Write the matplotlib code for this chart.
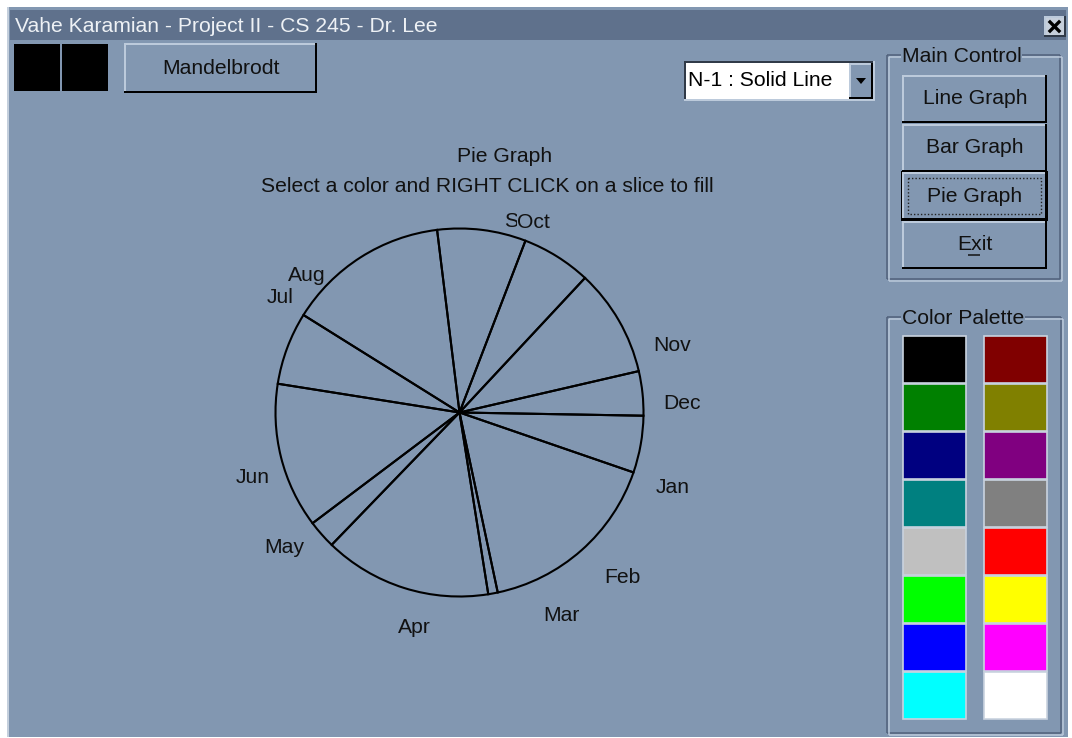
import numpy as np
import matplotlib
matplotlib.use("Agg")
import matplotlib.pyplot as plt
from matplotlib.patches import Rectangle, Polygon

W, H = 1072, 738
BG = "#8297b1"
TITLE_BG = "#5f718c"
LIGHT = "#bccadb"
DARK = "#50607a"
FONT = "Liberation Sans"
FS = 15.2

# pie data: degrees per slice, clockwise from the start angle
MONTHS = ["Jan", "Feb", "Mar", "Apr", "May", "Jun",
          "Jul", "Aug", "Sep", "Oct", "Nov", "Dec"]
SLICE_DEG = [18, 59, 3, 53, 9, 46, 23, 51, 28, 22, 34, 14]
START_ANGLE = -1

# where the app put the month labels (angle deg, distance from centre in px)
LABEL_ANGLE = [-19.5, -45.5, -63.2, -101.9, 217.5, 197.3,
               147.2, 138.0, 71.6, 68.8, 17.6, 2.4]
LABEL_RADIUS = [226, 232, 227, 220, 221, 217, 213, 205, 201, 204, 223, 223]

BUTTONS = ["Line Graph", "Bar Graph", "Pie Graph", "Exit"]
ACTIVE = "Pie Graph"

PALETTE_LEFT = ["#000000", "#008000", "#000080", "#008080",
                "#c0c0c0", "#00ff00", "#0000ff", "#00ffff"]
PALETTE_RIGHT = ["#800000", "#808000", "#800080", "#808080",
                 "#ff0000", "#ffff00", "#ff00ff", "#ffffff"]

TITLE = "Vahe Karamian - Project II - CS 245 - Dr. Lee"
DROPDOWN = "N-1 : Solid Line"

PX = 0.72  # 1 px in points at dpi 100


def hline(ax, x0, x1, y, c, lw=1):
    ax.plot([x0, x1], [y, y], color=c, lw=lw * PX, solid_capstyle="butt")


def vline(ax, x, y0, y1, c, lw=1):
    ax.plot([x, x], [y0, y1], color=c, lw=lw * PX, solid_capstyle="butt")


def bevel(ax, x0, y0, x1, y1, raised=True, face=BG, dark="black"):
    ax.add_patch(Rectangle((x0, y0), x1 - x0, y1 - y0, facecolor=face,
                           edgecolor="none"))
    lt, dk = (LIGHT, dark) if raised else (dark, LIGHT)
    hline(ax, x0, x1, y0 + 1, lt, 2)
    vline(ax, x0 + 1, y0, y1, lt, 2)
    hline(ax, x0, x1, y1 - 1, dk, 2)
    vline(ax, x1 - 1, y0, y1, dk, 2)


def groupbox(ax, x0, y0, x1, y1, label):
    for off, c in [(0, DARK), (1.5, LIGHT)]:
        hline(ax, x0 + off, x1 + off, y0 + off, c, 1.5)
        hline(ax, x0 + off, x1 + off, y1 + off, c, 1.5)
        vline(ax, x0 + off, y0 + off, y1 + off, c, 1.5)
        vline(ax, x1 + off, y0 + off, y1 + off, c, 1.5)
    ax.text(x0 + 15, y0 + 1, label, fontsize=FS, family=FONT, ha="left",
            va="center", color="#111111",
            bbox=dict(facecolor=BG, edgecolor="none", pad=0.5))


def main():
    fig = plt.figure(figsize=(W / 100, H / 100), dpi=100, facecolor="white")
    ui = fig.add_axes([0, 0, 1, 1])
    ui.set_xlim(0, W)
    ui.set_ylim(H, 0)
    ui.axis("off")

    # window body + title bar
    ui.add_patch(Rectangle((7, 7), W - 11, H - 8, facecolor=BG,
                           edgecolor="none"))
    vline(ui, 8, 7, H - 1, "#c4cfdc", 2)
    ui.add_patch(Rectangle((10, 10), W - 16, 30, facecolor=TITLE_BG,
                           edgecolor="none"))
    ui.text(15, 26, TITLE, fontsize=FS, family=FONT, color="#eef1f5",
            ha="left", va="center")
    bevel(ui, 1044, 16, 1066, 37, face="#c6cfdb", dark="#303a48")
    ui.plot([1050, 1059], [22, 31], color="black", lw=2.4)
    ui.plot([1050, 1059], [31, 22], color="black", lw=2.4)

    # two black squares + Mandelbrodt
    for x0 in (14, 62):
        ui.add_patch(Rectangle((x0, 44), 46, 47, facecolor="black",
                               edgecolor="none"))
    bevel(ui, 124, 43, 317, 93)
    ui.text(221, 68, "Mandelbrodt", fontsize=FS, family=FONT, ha="center",
            va="center", color="#111111")

    # line style dropdown
    bevel(ui, 684, 61, 875, 101, raised=False, dark="#303a48")
    ui.add_patch(Rectangle((686, 63), 163, 36, facecolor="white",
                           edgecolor="none"))
    ui.text(688, 80, DROPDOWN, fontsize=FS, family=FONT, ha="left",
            va="center", color="black")
    bevel(ui, 849, 63, 873, 99)
    ui.add_patch(Polygon([[856, 78], [866, 78], [861, 84]], closed=True,
                         facecolor="black", edgecolor="none"))

    # main control
    groupbox(ui, 887, 55, 1060, 279, "Main Control")
    for i, name in enumerate(BUTTONS):
        y0 = 75 + i * 48.5
        y1 = y0 + 48
        bevel(ui, 902, y0, 1047, y1)
        if name == ACTIVE:
            ui.add_patch(Rectangle((902, y0), 145, 48, facecolor="none",
                                   edgecolor="black", lw=2 * PX))
            ui.add_patch(Rectangle((908, y0 + 6), 133, 36, facecolor="none",
                                   edgecolor="#222222", lw=1.0,
                                   linestyle=(0, (1, 1.5))))
        ui.text(975, y0 + 24, name, fontsize=FS, family=FONT, ha="center",
                va="center", color="#111111")
    hline(ui, 968, 980, 255, "#111111", 1.5)

    # colour palette
    groupbox(ui, 887, 317, 1061, 733, "Color Palette")
    for col, (x0, colors) in enumerate([(903, PALETTE_LEFT),
                                        (984, PALETTE_RIGHT)]):
        for r, c in enumerate(colors):
            y0 = 336 + r * 48
            ui.add_patch(Rectangle((x0, y0), 63, 47, facecolor=c,
                                   edgecolor="#c9d3df", lw=1.2))

    # chart headings
    ui.text(505, 157, "Pie Graph", fontsize=FS, family=FONT, ha="center",
            va="center", color="#111111")
    ui.text(487, 187, "Select a color and RIGHT CLICK on a slice to fill",
            fontsize=FS, family=FONT, ha="center", va="center",
            color="#111111")

    # pie
    cx, cy, half = 459.5, 412.5, 240
    ax = fig.add_axes([(cx - half) / W, 1 - (cy + half) / H,
                       2 * half / W, 2 * half / H])
    ax.pie(SLICE_DEG, startangle=START_ANGLE, counterclock=False, radius=184,
           wedgeprops=dict(facecolor="none", edgecolor="black",
                           linewidth=1.5))
    ax.set_xlim(-half, half)
    ax.set_ylim(-half, half)
    ax.set_aspect("equal")
    ax.axis("off")
    ax.patch.set_alpha(0)

    for name, a, r in zip(MONTHS, LABEL_ANGLE, LABEL_RADIUS):
        t = np.deg2rad(a)
        kw = {}
        if name == "Oct":
            # the app draws Oct on top of Sep
            kw["bbox"] = dict(facecolor=BG, edgecolor="none", pad=0.2)
        ax.text(r * np.cos(t), r * np.sin(t), name, fontsize=FS, family=FONT,
                ha="center", va="center", color="#111111", **kw)

    fig.savefig("out.png", dpi=100, facecolor="white")
    plt.close(fig)


if __name__ == "__main__":
    main()
